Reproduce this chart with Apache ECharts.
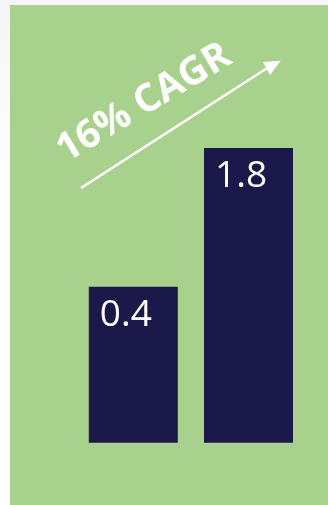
<!DOCTYPE html>
<html>
<head>
<meta charset="utf-8">
<script src="https://cdn.jsdelivr.net/npm/echarts@6/dist/echarts.min.js"></script>
<style>
  html, body { margin: 0; padding: 0; }
  body {
    width: 328px; height: 505px; overflow: hidden;
    background: linear-gradient(180deg, #f6f6f6 0%, #ffffff 45%, #ffffff 100%);
    position: relative;
  }
  #chart { position: absolute; left: 10px; top: 5px; width: 318px; height: 500px; }
</style>
</head>
<body>
<div id="chart"></div>
<script>
// Two periods, values in the chart's units
const categories = ['Start', 'End'];
const values = [0.4, 1.8];
const growthLabel = '16% CAGR';

const GREEN = '#a9d18e';
const NAVY = '#1a1949';

// Bars rise from a common floor below zero so both columns share one baseline
const axisFloor = -1.175;
const axisTop = 2.0;

const chart = echarts.init(document.getElementById('chart'), null, { renderer: 'canvas' });

chart.setOption({
  backgroundColor: GREEN,
  animation: false,
  grid: { left: 65.7, right: 21.9, top: 123.2, bottom: 62.3 },
  xAxis: {
    type: 'category',
    data: categories,
    show: false
  },
  yAxis: {
    type: 'value',
    min: axisFloor,
    max: axisTop,
    startValue: axisFloor,
    show: false
  },
  series: [{
    type: 'bar',
    data: values,
    barWidth: 89,
    itemStyle: { color: NAVY },
    label: {
      show: true,
      position: [11, 10],
      formatter: p => String(p.value),
      color: '#ffffff',
      fontFamily: 'Open Sans',
      fontSize: 37,
      lineHeight: 37
    }
  }],
  graphic: [
    {
      type: 'text',
      x: 134, y: 98,
      rotation: 31 * Math.PI / 180,
      style: {
        text: growthLabel,
        fill: '#ffffff',
        font: 'bold 39px "Open Sans"',
        align: 'center',
        verticalAlign: 'middle'
      }
    },
    {
      type: 'line',
      shape: { x1: 71, y1: 183, x2: 256.5, y2: 63.5 },
      style: { stroke: '#ffffff', lineWidth: 2.5 }
    },
    {
      type: 'polygon',
      shape: { points: [[270.7, 55.7], [253, 57], [260, 70]] },
      style: { fill: '#ffffff' }
    }
  ]
});
</script>
</body>
</html>
